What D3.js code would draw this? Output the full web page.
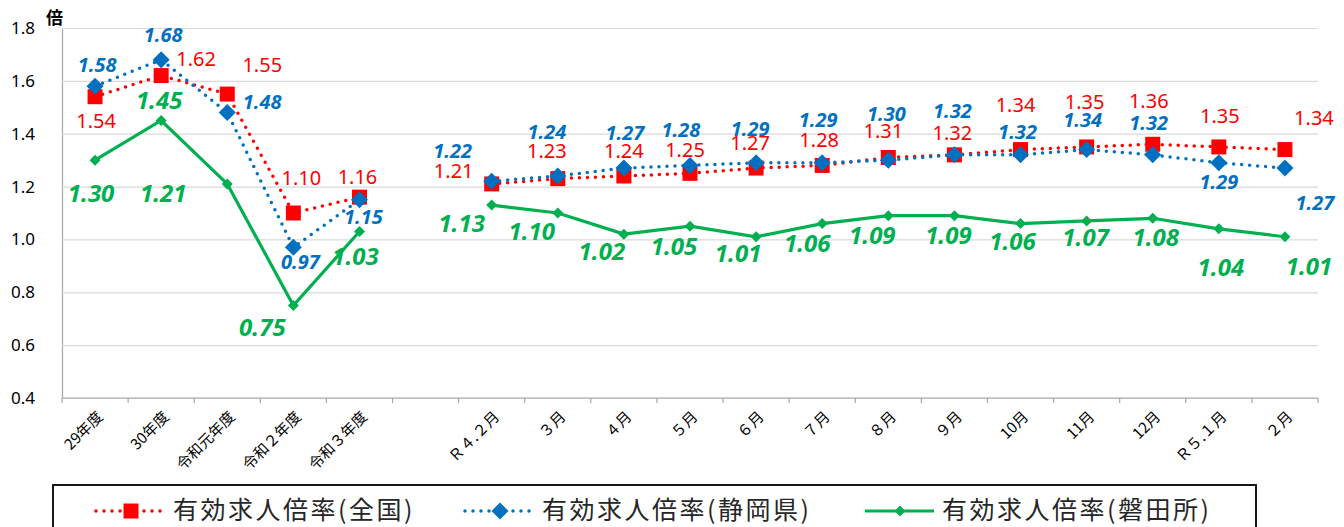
<!DOCTYPE html>
<html>
<head>
<meta charset="utf-8">
<script src="https://cdn.jsdelivr.net/npm/d3@7"></script>
<style>
  body { margin: 0; background: #fff; }
  svg { display: block; }
</style>
</head>
<body>
<script>
// 横軸の区分（空白は年度と月の間の区切り）
var categories = ["29年度", "30年度", "令和元年度", "令和２年度", "令和３年度", " ",
  "Ｒ４.２月", "３月", "４月", "５月", "６月", "７月", "８月", "９月", "10月", "11月", "12月", "Ｒ５.１月", "２月"];
var yTicks = [0.4, 0.6, 0.8, 1.0, 1.2, 1.4, 1.6, 1.8];
var seriesNames = ["有効求人倍率(全国)", "有効求人倍率(静岡県)", "有効求人倍率(磐田所)"];
var zenkoku = [1.54, 1.62, 1.55, 1.10, 1.16, null, 1.21, 1.23, 1.24, 1.25, 1.27, 1.28, 1.31, 1.32, 1.34, 1.35, 1.36, 1.35, 1.34];
var shizuoka = [1.58, 1.68, 1.48, 0.97, 1.15, null, 1.22, 1.24, 1.27, 1.28, 1.29, 1.29, 1.30, 1.32, 1.32, 1.34, 1.32, 1.29, 1.27];
var iwata = [1.30, 1.45, 1.21, 0.75, 1.03, null, 1.13, 1.10, 1.02, 1.05, 1.01, 1.06, 1.09, 1.09, 1.06, 1.07, 1.08, 1.04, 1.01];

// ラベル位置の調整（点からのずれ）
var zenkokuOff = [[1,31],[35,-10],[35,-22],[8,-28],[-2,-13],null,[-38,-6],[-11,-21],[0,-18],[-5,-16],[-6,-18],[-3,-18],[-5,-20],[-2,-15],[-5,-38],[-2,-38],[-4,-36],[1,-24],[29,-25]];
var shizuokaOff = [[2,-14],[2,-18],[35,-4],[7,22],[4,24],null,[-39,-23],[-11,-37],[1,-28],[-9,-28],[-6,-27],[-4,-36],[-2,-39],[-2,-37],[-3,-16],[-4,-23],[-4,-25],[0,26],[30,42]];
var iwataOff = [[-4,42],[-2,-12],[-64,18],[-31,30],[-4,33],null,[-30,27],[-26,27],[-22,26],[-16,29],[-18,25],[-15,28],[-16,28],[-6,28],[-8,26],[-1,25],[3,28],[2,47],[24,38]];

var width = 1344;
var height = 527;
var margin = { top: 28, right: 26, bottom: 129, left: 62 };

var svg = d3.select("body")
  .append("svg")
  .attr("width", width)
  .attr("height", height);

var x = d3.scaleBand()
  .domain(categories)
  .range([margin.left, width - margin.right]);
var y = d3.scaleLinear()
  .domain([0.4, 1.8])
  .range([height - margin.bottom, margin.top]);

var numFont = "'Noto Sans', 'DejaVu Sans', sans-serif";
var jpFont = "'Noto Sans CJK JP', sans-serif";

// 目盛線
var yAxis = svg.append("g")
  .attr("transform", "translate(" + margin.left + ",0)")
  .call(d3.axisLeft(y).tickValues(yTicks).tickFormat(d3.format(".1f"))
    .tickSize(-(width - margin.left - margin.right)).tickPadding(27));
yAxis.select(".domain").attr("stroke", "#a6a6a6").attr("stroke-width", 1.2);
yAxis.selectAll(".tick line").attr("stroke", "#d9d9d9").attr("stroke-width", 1.2);
yAxis.selectAll(".tick text")
  .attr("font-family", numFont).attr("font-size", 17).attr("fill", "#000");

svg.append("text")
  .attr("x", 46).attr("y", 24)
  .attr("font-family", jpFont).attr("font-size", 17).attr("font-weight", "bold")
  .text("倍");

// 横軸
var y0 = y(0.4);
svg.append("line")
  .attr("x1", margin.left).attr("x2", width - margin.right)
  .attr("y1", y0).attr("y2", y0)
  .attr("stroke", "#a6a6a6").attr("stroke-width", 1.2);
var bounds = categories.map(function (c) { return x(c); }).concat([width - margin.right]);
svg.selectAll(".xtick")
  .data(bounds)
  .enter()
  .append("line")
  .attr("x1", function (d) { return d; })
  .attr("x2", function (d) { return d; })
  .attr("y1", y0).attr("y2", y0 + 5)
  .attr("stroke", "#a6a6a6").attr("stroke-width", 1.2);
svg.selectAll(".xlabel")
  .data(categories)
  .enter()
  .append("text")
  .attr("font-family", jpFont)
  .attr("font-size", 15)
  .attr("fill", "#000")
  .attr("text-anchor", "end")
  .attr("transform", function (d) {
    return "translate(" + (x(d) + x.bandwidth() / 2 + 5) + "," + (y0 + 16) + ") rotate(-45)";
  })
  .attr("dy", "0.35em")
  .text(function (d) { return d; });

var series = [
  { name: seriesNames[0], values: zenkoku, off: zenkokuOff, color: "#ff0000", dash: "0,8", width: 3.5,
    marker: "square", size: 15, font: 20, weight: "normal", style: "normal" },
  { name: seriesNames[1], values: shizuoka, off: shizuokaOff, color: "#0070c0", dash: "0,8", width: 3.5,
    marker: "diamond", size: 17, font: 20, weight: "bold", style: "italic" },
  { name: seriesNames[2], values: iwata, off: iwataOff, color: "#00b050", dash: null, width: 3.2,
    marker: "diamond", size: 11, font: 24, weight: "bold", style: "italic" }
];

function markerPath(type, s) {
  var h = s / 2;
  if (type === "square") return "M" + (-h) + "," + (-h) + "h" + s + "v" + s + "h" + (-s) + "Z";
  return "M0," + (-h) + "L" + h + ",0L0," + h + "L" + (-h) + ",0Z";
}

var line = d3.line()
  .defined(function (d) { return d.v != null; })
  .x(function (d) { return x(d.c) + x.bandwidth() / 2; })
  .y(function (d) { return y(d.v); });

series.forEach(function (s) {
  var pts = categories.map(function (c, i) { return { c: c, v: s.values[i], o: s.off[i] }; });
  var g = svg.append("g");
  g.append("path")
    .datum(pts)
    .attr("fill", "none")
    .attr("stroke", s.color)
    .attr("stroke-width", s.width)
    .attr("stroke-linecap", s.dash ? "round" : "butt")
    .attr("stroke-dasharray", s.dash)
    .attr("d", line);
  g.selectAll("path.mk")
    .data(pts.filter(function (d) { return d.v != null; }))
    .enter()
    .append("path")
    .attr("class", "mk")
    .attr("fill", s.color)
    .attr("transform", function (d) {
      return "translate(" + (x(d.c) + x.bandwidth() / 2) + "," + y(d.v) + ")";
    })
    .attr("d", markerPath(s.marker, s.size));
  s.pts = pts;
});

// データラベル
series.forEach(function (s) {
  svg.append("g").selectAll("text")
    .data(s.pts.filter(function (d) { return d.v != null; }))
    .enter()
    .append("text")
    .attr("font-family", numFont)
    .attr("font-size", s.font)
    .attr("font-weight", s.weight)
    .attr("font-style", s.style)
    .attr("fill", s.color)
    .attr("text-anchor", "middle")
    .attr("x", function (d) { return x(d.c) + x.bandwidth() / 2 + d.o[0]; })
    .attr("y", function (d) { return y(d.v) + d.o[1]; })
    .text(function (d) { return d3.format(".2f")(d.v); });
});

// 凡例
svg.append("rect")
  .attr("x", 53).attr("y", 485)
  .attr("width", 1203).attr("height", 60)
  .attr("fill", "none").attr("stroke", "#000").attr("stroke-width", 1.8);
var legendX = [96, 465, 865];
series.forEach(function (s, i) {
  var lg = svg.append("g").attr("transform", "translate(" + legendX[i] + ",511)");
  lg.append("line")
    .attr("x1", 0).attr("x2", 69)
    .attr("stroke", s.color)
    .attr("stroke-width", s.width)
    .attr("stroke-linecap", s.dash ? "round" : "butt")
    .attr("stroke-dasharray", s.dash);
  lg.append("path")
    .attr("transform", "translate(35,0)")
    .attr("fill", s.color)
    .attr("d", markerPath(s.marker, s.size));
  lg.append("text")
    .attr("x", 77)
    .attr("dy", "0.3em")
    .attr("font-family", jpFont)
    .attr("font-size", 25)
    .attr("letter-spacing", 2.5)
    .attr("fill", "#262626")
    .text(s.name);
});
</script>
</body>
</html>
